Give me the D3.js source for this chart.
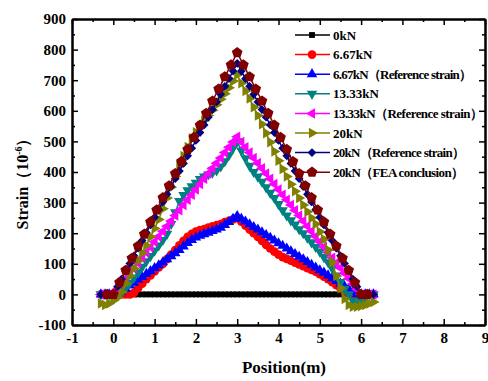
<!DOCTYPE html>
<html>
<head>
<meta charset="utf-8">
<script src="https://cdn.jsdelivr.net/npm/d3@7"></script>
<style>
    body { margin: 0; background: #fff; }
</style>
</head>
<body>
<svg id="chart" width="488" height="381"></svg>
<script>
/* global d3: true */

// measuring points (m)
var positions = [-0.3, -0.2, -0.1, 0.0, 0.1, 0.2, 0.3, 0.4, 0.5, 0.6, 0.7, 0.8, 0.9, 1.0,
    1.1, 1.2, 1.3, 1.4, 1.5, 1.6, 1.7, 1.8, 1.9, 2.0, 2.1, 2.2, 2.3, 2.4, 2.5, 2.6, 2.7,
    2.8, 2.9, 3.0, 3.1, 3.2, 3.3, 3.4, 3.5, 3.6, 3.7, 3.8, 3.9, 4.0, 4.1, 4.2, 4.3, 4.4,
    4.5, 4.6, 4.7, 4.8, 4.9, 5.0, 5.1, 5.2, 5.3, 5.4, 5.5, 5.6, 5.7, 5.8, 5.9, 6.0, 6.1,
    6.2, 6.3];
var feaPositions = [-0.15, 0, 0.15, 0.3, 0.45, 0.6, 0.75, 0.9, 1.05, 1.2, 1.35, 1.5, 1.65,
    1.8, 1.95, 2.1, 2.25, 2.4, 2.55, 2.7, 2.85, 3.0, 3.15, 3.3, 3.45, 3.6, 3.75, 3.9, 4.05,
    4.2, 4.35, 4.5, 4.65, 4.8, 4.95, 5.1, 5.25, 5.4, 5.55, 5.7, 5.85, 6.0, 6.15];

var strain0 = [0, 0, 0, 0, 0, 0, 0, 0, 0, 0, 0, 0, 0, 0, 0, 0, 0, 0, 0, 0, 0, 0, 0, 0, 0, 0,
    0, 0, 0, 0, 0, 0, 0, 0, 0, 0, 0, 0, 0, 0, 0, 0, 0, 0, 0, 0, 0, 0, 0, 0, 0, 0, 0, 0, 0,
    0, 0, 0, 0, 0, 0, 0, 0, 0, 0, 0, 0];
var strain667 = [0, 0, 0, 0, 0, 0, 0, 0, 5, 20, 35, 50, 62, 75, 88, 100, 115, 130, 145, 160,
    175, 188, 198, 205, 210, 213, 218, 222, 226, 230, 236, 240, 245, 250, 238, 225, 212, 200,
    188, 175, 162, 150, 140, 130, 122, 116, 110, 104, 98, 92, 86, 80, 74, 66, 58, 50, 40, 30,
    20, 10, 3, 0, 0, 0, 0, 0, 0];
var ref667 = [0, 0, 0, 0, 0, 10, 19, 29, 38, 48, 57, 67, 76, 86, 95, 105, 115, 125, 135, 145,
    157, 168, 178, 186, 192, 197, 202, 207, 212, 218, 227, 237, 247, 256, 247, 238, 229, 220,
    212, 203, 194, 185, 176, 167, 159, 150, 141, 132, 123, 115, 106, 97, 88, 79, 71, 62, 53,
    44, 35, 26, 18, 9, 0, 0, 0, 0, 0];
var strain1333 = [0, 0, 0, 0, 0, 5, 20, 38, 55, 72, 90, 108, 125, 143, 160, 178, 198, 230,
    268, 305, 325, 340, 353, 365, 377, 385, 392, 398, 405, 418, 435, 455, 478, 500, 470, 445,
    420, 400, 385, 368, 350, 332, 315, 295, 275, 258, 242, 228, 213, 200, 185, 170, 155, 140,
    122, 105, 85, 62, 40, 18, 0, -20, -30, -25, -10, 0, 0];
var ref1333 = [0, 0, 0, 0, 17, 34, 52, 69, 86, 103, 120, 137, 155, 172, 189, 206, 223, 240,
    258, 275, 292, 309, 326, 343, 361, 378, 395, 412, 429, 446, 464, 481, 498, 515, 498, 481,
    464, 446, 429, 412, 395, 378, 361, 343, 326, 309, 292, 275, 258, 240, 223, 206, 189, 172,
    155, 137, 120, 103, 86, 69, 52, 34, 17, 0, 0, 0, 0];
var strain20 = [-30, -35, -30, -20, -10, 8, 35, 60, 85, 110, 135, 160, 188, 215, 245, 280,
    315, 350, 385, 420, 452, 482, 510, 530, 550, 568, 585, 602, 620, 638, 656, 675, 697, 718,
    690, 665, 640, 612, 585, 556, 527, 497, 467, 437, 410, 385, 360, 337, 315, 292, 270, 250,
    230, 205, 180, 145, 105, 60, 20, -15, -35, -40, -40, -38, -35, -30, -25];
var ref20 = [0, 0, 0, 0, 25, 50, 76, 101, 126, 151, 176, 202, 227, 252, 277, 302, 327, 353,
    378, 403, 428, 453, 478, 503, 529, 554, 579, 604, 629, 654, 680, 705, 730, 755, 730, 705,
    680, 654, 629, 604, 579, 554, 529, 503, 478, 453, 428, 403, 378, 353, 327, 302, 277, 252,
    227, 202, 176, 151, 126, 101, 76, 50, 25, 0, 0, 0, 0];
var fea20 = [0, 0, 39, 79, 118, 158, 197, 237, 276, 316, 355, 395, 434, 474, 513, 553, 592,
    632, 671, 711, 750, 790, 750, 711, 671, 632, 592, 553, 513, 474, 434, 395, 355, 316, 276,
    237, 197, 158, 118, 79, 39, 0, 0];

var seriesNames = ['0kN', '6.67kN', '6.67kN（Reference strain）', '13.33kN',
    '13.33kN（Reference strain）', '20kN', '20kN（Reference strain）', '20kN（FEA conclusion）'];
// legend text widths as seen in the picture (0 = natural width)
var nameWidths = [0, 0, 139, 0, 150, 0, 132, 131];
var xTicks = [-1, 0, 1, 2, 3, 4, 5, 6, 7, 8, 9];
var yTicks = [-100, 0, 100, 200, 300, 400, 500, 600, 700, 800, 900];

var series = [
    {x: positions, y: strain0, color: '#000000', symbol: 'square'},
    {x: positions, y: strain667, color: '#ff0000', symbol: 'circle'},
    {x: positions, y: ref667, color: '#0000ff', symbol: 'up'},
    {x: positions, y: strain1333, color: '#008080', symbol: 'down'},
    {x: positions, y: ref1333, color: '#ff00ff', symbol: 'left'},
    {x: positions, y: strain20, color: '#808000', symbol: 'right'},
    {x: positions, y: ref20, color: '#000080', symbol: 'diamond'},
    {x: feaPositions, y: fea20, color: '#800000', symbol: 'pentagon'}
];

var FONT = '"Liberation Serif", "DejaVu Serif", serif';

var svg = d3.select('#chart');
var x = d3.scaleLinear().domain([-1, 9]).range([72, 485]);
var y = d3.scaleLinear().domain([-100, 900]).range([325, 19]);

function styleText(sel, size) {
    return sel.attr('font-family', null)
        .style('font-family', FONT)
        .style('font-weight', 'bold')
        .style('font-size', size + 'px')
        .attr('fill', '#000');
}

function pentagonPath(r) {
    var pts = [];
    for (var k = 0; k < 5; k++) {
        var a = -Math.PI / 2 + k * 2 * Math.PI / 5;
        pts.push([r * Math.cos(a), r * Math.sin(a)]);
    }
    return 'M' + pts.map(function(p) { return p[0].toFixed(2) + ',' + p[1].toFixed(2); })
        .join('L') + 'Z';
}

function markerPath(kind) {
    switch (kind) {
        case 'square': return d3.symbol(d3.symbolSquare, 34)();
        case 'circle': return d3.symbol(d3.symbolCircle, 60)();
        case 'diamond': return d3.symbol(d3.symbolSquare, 38)();
        case 'pentagon': return pentagonPath(5.6);
        default: return d3.symbol(d3.symbolTriangle, 48)();
    }
}

function markerRotation(kind) {
    return {down: 180, left: -90, right: 90, diamond: 45}[kind] || 0;
}

// axes, ticks pointing inwards
function drawAxis(axis, transform, labels) {
    var g = svg.append('g').attr('transform', transform).call(axis);
    g.attr('font-family', null);
    g.select('.domain').attr('stroke-width', 2);
    g.selectAll('.tick line').attr('stroke-width', 1.5);
    styleText(g.selectAll('.tick text'), 15);
    if (!labels) g.selectAll('.tick text').remove();
    return g;
}

var xMinor = d3.range(-0.5, 9, 1);
var yMinor = d3.range(-50, 900, 100);
var fmt = function(d) { return String(d); };

drawAxis(d3.axisBottom(x).tickValues(xMinor).tickSize(-3).tickSizeOuter(0), 'translate(0,325)', false);
drawAxis(d3.axisTop(x).tickValues(xMinor).tickSize(-3).tickSizeOuter(0), 'translate(0,19)', false);
drawAxis(d3.axisLeft(y).tickValues(yMinor).tickSize(-3).tickSizeOuter(0), 'translate(72,0)', false);
drawAxis(d3.axisRight(y).tickValues(yMinor).tickSize(-3).tickSizeOuter(0), 'translate(485,0)', false);

drawAxis(d3.axisBottom(x).tickValues(xTicks).tickSize(-6).tickSizeOuter(0)
    .tickPadding(7).tickFormat(fmt), 'translate(0,325)', true);
drawAxis(d3.axisTop(x).tickValues(xTicks).tickSize(-6).tickSizeOuter(0), 'translate(0,19)', false);
drawAxis(d3.axisLeft(y).tickValues(yTicks).tickSize(-6).tickSizeOuter(0)
    .tickPadding(6).tickFormat(fmt), 'translate(72,0)', true);
drawAxis(d3.axisRight(y).tickValues(yTicks).tickSize(-6).tickSizeOuter(0), 'translate(485,0)', false);

// series
var line = d3.line()
    .x(function(d) { return x(d[0]); })
    .y(function(d) { return y(d[1]); });

series.forEach(function(s) {
    var pts = s.x.map(function(v, i) { return [v, s.y[i]]; });
    var g = svg.append('g');
    g.append('path')
        .attr('d', line(pts))
        .attr('fill', 'none')
        .attr('stroke', s.color)
        .attr('stroke-width', 1.5);
    g.selectAll('path.mark')
        .data(pts)
        .enter().append('path')
        .attr('class', 'mark')
        .attr('d', markerPath(s.symbol))
        .attr('fill', s.color)
        .attr('transform', function(d) {
            return 'translate(' + x(d[0]) + ',' + y(d[1]) + ') rotate(' + markerRotation(s.symbol) + ')';
        });
});

// legend
var legend = svg.append('g');
series.forEach(function(s, i) {
    var ly = 35 + i * 19.6;
    legend.append('line')
        .attr('x1', 295).attr('x2', 330).attr('y1', ly).attr('y2', ly)
        .attr('stroke', s.color).attr('stroke-width', 1.5);
    legend.append('path')
        .attr('d', markerPath(s.symbol))
        .attr('fill', s.color)
        .attr('transform', 'translate(312,' + ly + ') rotate(' + markerRotation(s.symbol) + ')');
    var t = styleText(legend.append('text'), 13)
        .attr('x', 333).attr('y', ly).attr('dy', '0.35em')
        .text(seriesNames[i]);
    if (nameWidths[i]) {
        // full-width brackets are wider than in the original, close up the spacing
        t.attr('textLength', nameWidths[i]).attr('lengthAdjust', 'spacing');
    }
});

// axis titles
styleText(svg.append('text'), 17)
    .attr('x', 284).attr('y', 373)
    .attr('text-anchor', 'middle')
    .text('Position(m)');

var yTitle = styleText(svg.append('text'), 16)
    .attr('transform', 'translate(28,180) rotate(-90)')
    .attr('text-anchor', 'middle');
yTitle.append('tspan').text('Strain（10');
yTitle.append('tspan').attr('dy', -6).style('font-size', '10px').text('-6');
yTitle.append('tspan').attr('dy', 6).text('）');
</script>
</body>
</html>
